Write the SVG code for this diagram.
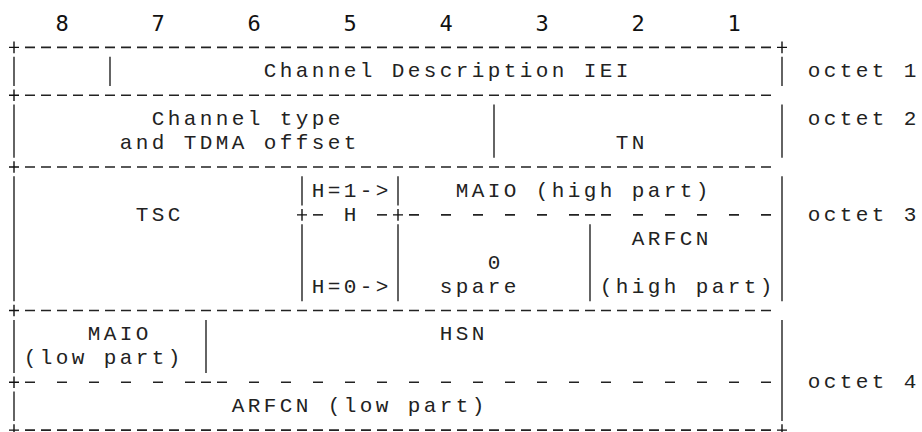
<svg xmlns="http://www.w3.org/2000/svg" width="922" height="432" viewBox="0 0 922 432">
<style>
  .bg{fill:#ffffff}
  .t{font-family:"Liberation Mono","DejaVu Sans Mono",monospace;font-size:21px;letter-spacing:3.4px;fill:#222}
  .n{font-family:"DejaVu Sans Mono","Liberation Mono",monospace;font-size:22px;fill:#111;text-anchor:middle}
  .v{stroke:#111;stroke-width:1.3;fill:none}
  .p{stroke:#111;stroke-width:1.4;fill:none}
  .d6{stroke:#222;stroke-width:1.6;stroke-dasharray:10 6;fill:none}
  .d22{stroke:#222;stroke-width:1.6;stroke-dasharray:10 22;fill:none}
</style>
<rect class="bg" x="0" y="0" width="922" height="432"/>

<g id="bit-numbers">
  <text class="n" x="62" y="30.5">8</text>
  <text class="n" x="158" y="30.5">7</text>
  <text class="n" x="254" y="30.5">6</text>
  <text class="n" x="350" y="30.5">5</text>
  <text class="n" x="446" y="30.5">4</text>
  <text class="n" x="542" y="30.5">3</text>
  <text class="n" x="638" y="30.5">2</text>
  <text class="n" x="734" y="30.5">1</text>
</g>

<g id="connectors">
  <!-- full horizontal borders -->
  <line class="d6" x1="25" y1="47.42" x2="771" y2="47.42"/>
  <line class="d6" x1="25" y1="95.26" x2="771" y2="95.26"/>
  <line class="d6" x1="25" y1="167.02" x2="771" y2="167.02"/>
  <line class="d6" x1="25" y1="310.54" x2="771" y2="310.54"/>
  <line class="d6" x1="25" y1="430.14" x2="771" y2="430.14"/>
  <!-- octet 3 dashed divider -->
  <line class="d6" x1="313" y1="214.86" x2="323" y2="214.86"/>
  <line class="d6" x1="377" y1="214.86" x2="387" y2="214.86"/>
  <line class="d22" x1="409" y1="214.86" x2="547" y2="214.86"/>
  <line class="d6" x1="569" y1="214.86" x2="611" y2="214.86"/>
  <line class="d22" x1="633" y1="214.86" x2="771" y2="214.86"/>
  <!-- octet 4 dashed divider -->
  <line class="d22" x1="25" y1="382.3" x2="163" y2="382.3"/>
  <line class="d6" x1="185" y1="382.3" x2="227" y2="382.3"/>
  <line class="d22" x1="249" y1="382.3" x2="771" y2="382.3"/>
  <!-- plus signs -->
  <path class="p" d="M9 47.42h10M14 41.6v11.6 M9 95.26h10M14 89.46v11.6 M9 167.02h10M14 161.2v11.6 M9 310.54h10M14 304.7v11.6 M9 382.3h10M14 376.5v11.6 M9 430.14h10M14 424.3v11.6 M777 47.42h10M782 41.6v11.6 M777 430.14h10M782 424.3v11.6 M297 214.86h10M302 209.06v11.6 M393 214.86h10M398 209.06v11.6"/>
  <!-- vertical bars -->
  <path class="v" d="M14 56.7V86 M14 104.6V157.8 M14 176.3V301.3 M14 319.9V373.1 M14 391.6V420.9"/>
  <path class="v" d="M782 56.7V86 M782 104.6V157.8 M782 176.3V301.3 M782 319.9V420.9"/>
  <path class="v" d="M110 56.7V86"/>
  <path class="v" d="M494 104.6V157.8"/>
  <path class="v" d="M302 176.3V205.6 M302 224.2V301.3"/>
  <path class="v" d="M398 176.3V205.6 M398 224.2V301.3"/>
  <path class="v" d="M590 224.2V301.3"/>
  <path class="v" d="M206 319.9V373.1"/>
</g>

<g id="octet1">
  <text class="t" x="263.7" y="77.34">Channel Description IEI</text>
  <text class="t" x="807.7" y="77.34">octet 1</text>
</g>

<g id="octet2">
  <text class="t" x="151.7" y="125.18">Channel type</text>
  <text class="t" x="119.7" y="149.1">and TDMA offset</text>
  <text class="t" x="615.7" y="149.1">TN</text>
  <text class="t" x="807.7" y="125.18">octet 2</text>
</g>

<g id="octet3">
  <text class="t" x="135.7" y="220.86">TSC</text>
  <text class="t" x="311.7" y="196.94">H=1-&gt;</text>
  <text class="t" x="343.7" y="220.86">H</text>
  <text class="t" x="311.7" y="292.62">H=0-&gt;</text>
  <text class="t" x="455.7" y="196.94">MAIO (high part)</text>
  <text class="t" x="487.7" y="268.7">0</text>
  <text class="t" x="439.7" y="292.62">spare</text>
  <text class="t" x="631.7" y="244.78">ARFCN</text>
  <text class="t" x="599.7" y="292.62">(high part)</text>
  <text class="t" x="807.7" y="220.86">octet 3</text>
</g>

<g id="octet4">
  <text class="t" x="87.7" y="340.46">MAIO</text>
  <text class="t" x="23.7" y="364.38">(low part)</text>
  <text class="t" x="439.7" y="340.46">HSN</text>
  <text class="t" x="231.7" y="412.22">ARFCN (low part)</text>
  <text class="t" x="807.7" y="388.3">octet 4</text>
</g>
</svg>
